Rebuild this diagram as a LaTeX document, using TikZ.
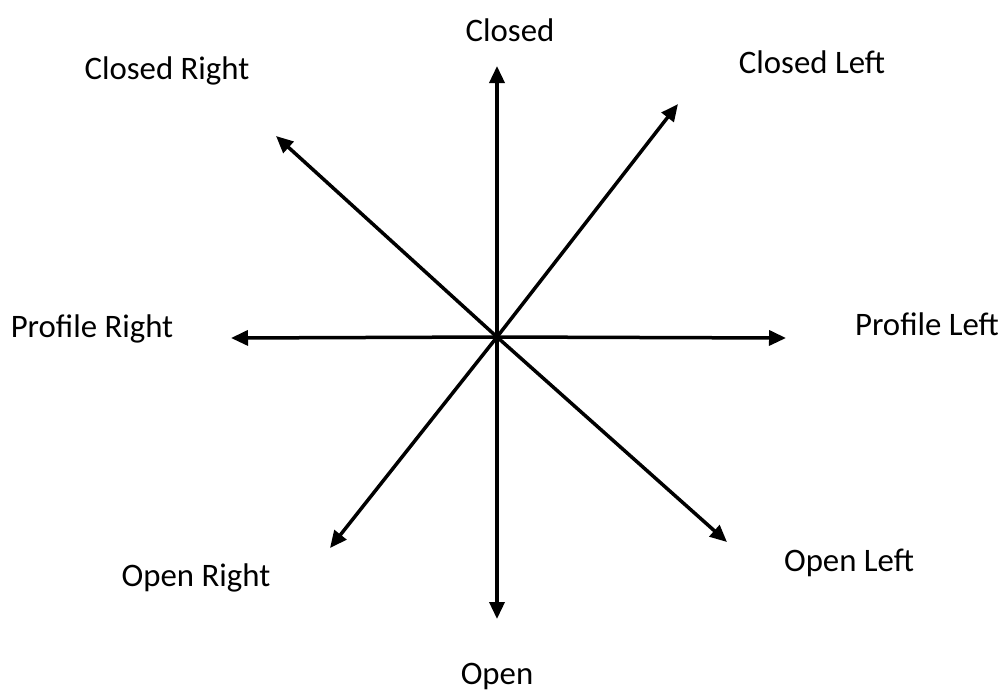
\documentclass[tikz,border=0pt]{standalone}
\usepackage{fontspec}
\setmainfont{Carlito}
\usetikzlibrary{arrows.meta}
\begin{document}
\begin{tikzpicture}[x=1pt,y=-1pt,
  arr/.style={line width=3.5pt,-{Triangle[length=17pt,width=15pt]}},
  lbl/.style={font=\fontsize{32.8}{36}\selectfont,inner sep=0pt,anchor=center}]
\useasboundingbox (0,0) rectangle (1004,691);
\coordinate (c) at (497,337);
\coordinate (tN) at (497,66);
\coordinate (tS) at (497,619);
\coordinate (tW) at (231,338);
\coordinate (tE) at (786,338);
\coordinate (tNW) at (276,136);
\coordinate (tNE) at (678,104);
\coordinate (tSW) at (330,548);
\coordinate (tSE) at (727,542);
\draw[arr] (c) -- (tN);
\draw[arr] (c) -- (tS);
\draw[arr] (c) -- (tW);
\draw[arr] (c) -- (tE);
\draw[arr] (c) -- (tNW);
\draw[arr] (c) -- (tNE);
\draw[arr] (c) -- (tSW);
\draw[arr] (c) -- (tSE);
\node[lbl] (lN) at (510,30) {Closed};
\node[lbl] (lNW) at (167,71) {Closed Right};
\node[lbl] (lNE) at (812,62) {Closed Left};
\node[lbl] (lW) at (92,329) {Profile Right};
\node[lbl] (lE) at (927,324) {Profile Left};
\node[lbl] (lSW) at (196,578) {Open Right};
\node[lbl] (lSE) at (849,563) {Open Left};
\node[lbl] (lS) at (497,676) {Open};
\end{tikzpicture}
\end{document}
